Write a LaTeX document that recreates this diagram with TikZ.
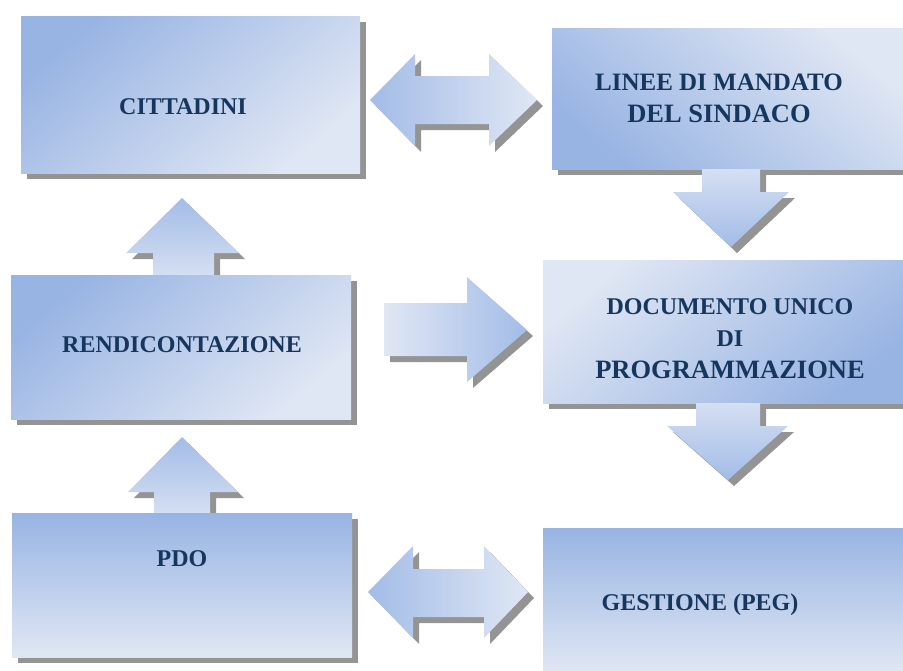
\documentclass[tikz,border=0pt]{standalone}
\usepackage{fontspec}
\setmainfont{Liberation Serif}
\usepackage{tikz}
\usetikzlibrary{shadows}

\definecolor{boxdark}{RGB}{152,180,227}
\definecolor{boxlight}{RGB}{224,231,244}
\definecolor{arrdark}{RGB}{163,188,231}
\definecolor{arrlight}{RGB}{212,223,242}
\definecolor{navy}{RGB}{23,54,93}

\begin{document}
\begin{tikzpicture}[x=1pt,y=-1pt,
		shad/.style={drop shadow={shadow xshift=6pt,shadow yshift=-6pt,fill=black!42,opacity=1}},
		box/.style={rectangle,inner sep=0pt,shad},
		lbl/.style={font=\bfseries\fontsize{24}{32}\selectfont,text=navy,align=center}]
			\clip (0,0) rectangle (903,670);
			
			% frecce verso l'alto (dietro ai riquadri)
			\path[shad,top color=arrdark,bottom color=arrlight]
				(153,275) -- (153,253) -- (126,253) -- (182,198) -- (239,253) -- (214,253) -- (214,275) -- cycle;
			\path[shad,top color=arrdark,bottom color=arrlight]
				(154,513) -- (154,492) -- (128,492) -- (182,437) -- (238,492) -- (210,492) -- (210,513) -- cycle;
			
			% riquadri
			\node[box,minimum width=339pt,minimum height=157pt,
				top color=boxdark,bottom color=boxlight,shading angle=40] (cit) at (190.5,94.5) {};
			\node[box,minimum width=354pt,minimum height=141pt,
				top color=boxlight,bottom color=boxdark,shading angle=-40] (linee) at (729,98.5) {};
			\node[box,minimum width=340pt,minimum height=144pt,
				top color=boxdark,bottom color=boxlight,shading angle=40] (rend) at (181,347) {};
			\node[box,minimum width=363pt,minimum height=143pt,
				top color=boxlight,bottom color=boxdark,shading angle=40] (doc) at (724.5,331.5) {};
			\node[box,minimum width=340pt,minimum height=144pt,
				top color=boxdark,bottom color=boxlight] (pdo) at (182,585) {};
			\node[box,minimum width=363pt,minimum height=145pt,
				top color=boxdark,bottom color=boxlight] (gest) at (724.5,600.5) {};
			
			% frecce verso il basso
			\path[shad,top color=arrlight,bottom color=arrdark]
				(702,169) -- (760,169) -- (760,192) -- (789,192) -- (731,247) -- (673,192) -- (702,192) -- cycle;
			\path[shad,top color=arrlight,bottom color=arrdark]
				(696,403) -- (760,403) -- (760,426) -- (788,426) -- (728,480) -- (667,426) -- (696,426) -- cycle;
			
			% frecce orizzontali
			\path[shad,left color=arrdark,right color=boxlight]
				(370,100) -- (415,54) -- (415,76) -- (489,76) -- (489,54) -- (537,100)
				-- (489,146) -- (489,124) -- (415,124) -- (415,146) -- cycle;
			\path[shad,left color=boxlight,right color=arrdark]
				(384,303) -- (467,303) -- (467,277) -- (527,330) -- (467,382) -- (467,356) -- (384,356) -- cycle;
			\path[shad,left color=arrdark,right color=boxlight]
				(368,592) -- (413,546) -- (413,569) -- (484,569) -- (484,546) -- (528,592)
				-- (484,638) -- (484,617) -- (413,617) -- (413,638) -- cycle;
			
			% testi
			\node[lbl] (citlbl) at (183,107) {CITTADINI};
			\node[lbl,font=\bfseries\fontsize{26.5}{32}\selectfont] (lineelbl) at (719,98)
				{{\fontsize{25}{32}\selectfont LINEE DI MANDATO}\\DEL SINDACO};
			\node[lbl] (rendlbl) at (182,345) {RENDICONTAZIONE};
			\node[lbl] (doclbl) at (730,339)
				{DOCUMENTO UNICO\\DI\\{\fontsize{26.5}{32}\selectfont PROGRAMMAZIONE}};
			\node[lbl] (pdolbl) at (182,559) {PDO};
			\node[lbl] (gestlbl) at (700,605) {GESTIONE (PEG)};
		\end{tikzpicture}
\end{document}
